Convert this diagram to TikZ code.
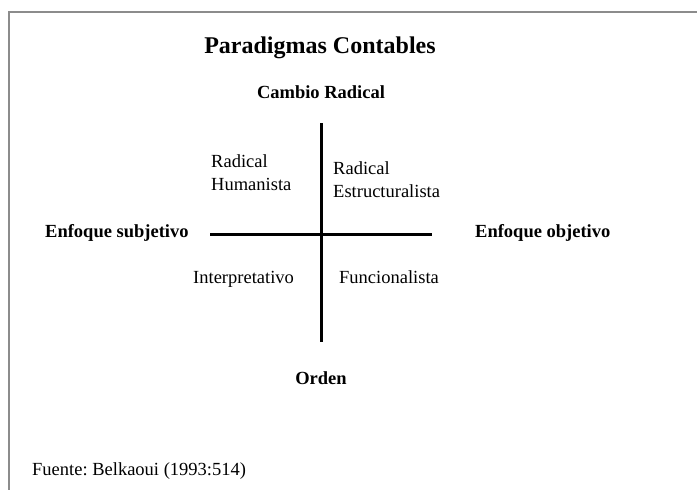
\documentclass[tikz,border=0pt]{standalone}
\usepackage{fontspec}
\setmainfont{Liberation Serif}
\usetikzlibrary{positioning}

\begin{document}
\begin{tikzpicture}[
        x = 1pt, y = -1pt,
        axis/.style = {line width = 3pt},
        frame/.style = {draw = black!45, line width = 1.5pt},
        heading/.style = {font = \bfseries\fontsize{24}{28}\selectfont, inner sep = 0pt},
        pole/.style = {font = \bfseries\fontsize{18.5}{22}\selectfont, inner sep = 0pt},
        quadrant/.style = {font = \frenchspacing\fontsize{18.5}{23}\selectfont, align = left, inner sep = 0pt}
    ]
      \useasboundingbox (0, 0) rectangle (697, 490);
      \draw[frame] (9, 490) |- (697, 12);

      % axes
      \coordinate (top) at (321, 123);
      \coordinate (bottom) at (321, 342);
      \coordinate (left) at (210, 234);
      \coordinate (right) at (432, 234);
      \draw[axis] (top) -- (bottom);
      \draw[axis] (left) -- (right);

      \node[heading, anchor = base] (title) at (320, 53) {Paradigmas Contables};

      \node[pole, anchor = base] (radical) at (321, 98) {Cambio Radical};
      \node[pole, anchor = base] (orden) at (321, 384) {Orden};
      \node[pole, anchor = base west] (subj) at (45, 237) {Enfoque subjetivo};
      \node[pole, anchor = base west] (obj) at (475, 237) {Enfoque objetivo};

      \node[quadrant, anchor = north west] (hum) at (211, 154.5) {Radical\\Humanista};
      \node[quadrant, anchor = north west] (est) at (333, 161.5) {Radical\\Estructuralista};
      \node[quadrant, anchor = base west] (int) at (193, 283) {Interpretativo};
      \node[quadrant, anchor = base west] (fun) at (339, 283) {Funcionalista};

      \node[quadrant, anchor = base west] (fuente) at (32, 475) {Fuente: Belkaoui (1993:514)};
    \end{tikzpicture}
\end{document}
